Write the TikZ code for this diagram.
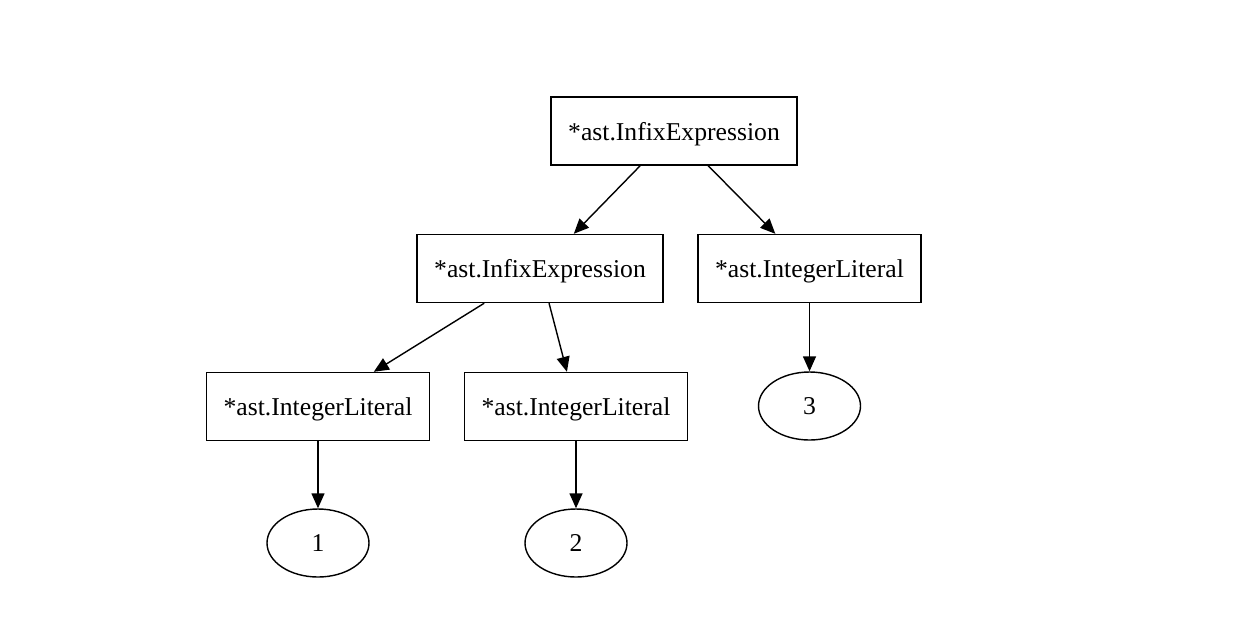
\documentclass[tikz,border=0pt]{standalone}
\usepackage{fontspec}
\setmainfont{Liberation Serif}
\usetikzlibrary{arrows.meta,shapes.geometric}
\tikzset{
  ast/.style={draw, rectangle, inner xsep=3.4mm, text depth=0pt, minimum height=13.6mm, font=\fontsize{14.6}{17}\selectfont},
  lit/.style={draw, ellipse, minimum width=20.4mm, minimum height=13.6mm, font=\fontsize{14.6}{17}\selectfont},
  edge/.style={draw, -{Triangle[length=3mm, width=2.6mm]}}
}
\begin{document}
\begin{tikzpicture}[x=0.2mm, y=-0.2mm, line width=0.8pt]
\useasboundingbox (0,0) rectangle (1236,628);
\node[ast] (root) at (674,131) {*ast.InfixExpression};
\node[ast] (infix) at (540,268.5) {*ast.InfixExpression};
\node[ast] (lit3) at (809.5,268.5) {*ast.IntegerLiteral};
\node[ast] (lit1) at (318,406.5) {*ast.IntegerLiteral};
\node[ast] (lit2) at (576,406.5) {*ast.IntegerLiteral};
\node[lit] (v3) at (809.5,406) {3};
\node[lit] (v1) at (318,543) {1};
\node[lit] (v2) at (576,543) {2};
% edges
\draw[edge] (root) -- (infix);
\draw[edge] (root) -- (lit3);
\draw[edge] (infix) -- (lit1);
\draw[edge] (infix) -- (lit2);
\draw[edge] (lit3) -- (v3);
\draw[edge] (lit1) -- (v1);
\draw[edge] (lit2) -- (v2);
\end{tikzpicture}
\end{document}
